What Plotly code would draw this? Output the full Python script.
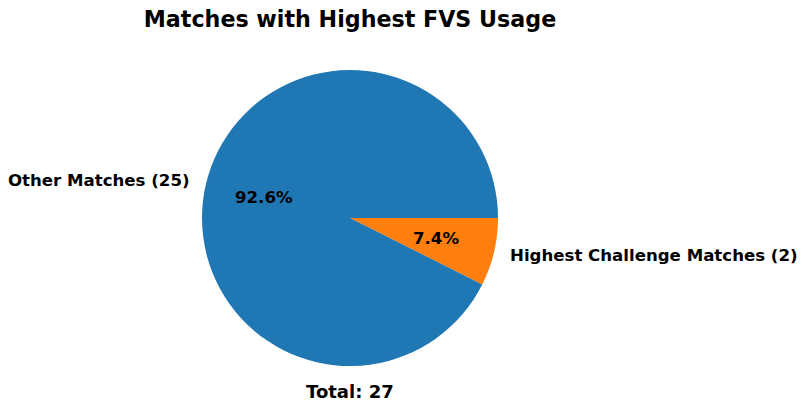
import math
import plotly.graph_objects as go

labels = ["Other Matches (25)", "Highest Challenge Matches (2)"]
values = [25, 2]
colors = ["#1f77b4", "#ff7f0e"]
title = "Matches with Highest FVS Usage"
total_label = "Total: " + str(sum(values))

W, H = 805, 413
cx, cy, R = 350, 218, 148  # pie centre and radius in px

# matplotlib draws counter-clockwise from 3 o'clock; in plotly that is the
# reversed order drawn clockwise from 3 o'clock
fig = go.Figure(go.Pie(
    labels=labels[::-1], values=values[::-1],
    marker=dict(colors=colors[::-1], line=dict(width=0)),
    sort=False, direction="clockwise", rotation=90,
    textinfo="none", hoverinfo="label+percent",
    domain=dict(x=[(cx - R) / W, (cx + R) / W], y=[1 - (cy + R) / H, 1 - (cy - R) / H]),
    showlegend=False,
))

font = "DejaVu Sans"
annotations = []
tot = sum(values)
start = 0.0
for lab, v in zip(labels, values):
    frac = v / tot
    mid = math.radians((start + frac / 2) * 360)
    start += frac
    c, s = math.cos(mid), math.sin(mid)
    # outer label at 1.1 R
    lx, ly = cx + 1.1 * R * c, cy - 1.1 * R * s
    annotations.append(dict(
        x=lx / W, y=1 - ly / H, xref="paper", yref="paper", text="<b>%s</b>" % lab,
        showarrow=False, xanchor="left" if c > 0 else "right", yanchor="middle",
        font=dict(family=font, size=16.6, color="black")))
    # percentage at 0.6 R
    px, py = cx + 0.6 * R * c, cy - 0.6 * R * s
    annotations.append(dict(
        x=px / W, y=1 - py / H, xref="paper", yref="paper", text="<b>%.1f%%</b>" % (frac * 100),
        showarrow=False, xanchor="center", yanchor="middle",
        font=dict(family=font, size=16.6, color="black")))

annotations.append(dict(
    x=cx / W, y=1 - 391 / H, xref="paper", yref="paper", text="<b>%s</b>" % total_label,
    showarrow=False, xanchor="center", yanchor="middle",
    font=dict(family=font, size=18, color="black")))

fig.update_layout(
    width=W, height=H, margin=dict(l=0, r=0, t=0, b=0),
    paper_bgcolor="white", plot_bgcolor="white",
    title=dict(text="<b>%s</b>" % title, x=cx / W, xanchor="center",
               y=1 - 19 / H, yanchor="middle",
               font=dict(family=font, size=22.2, color="black")),
    annotations=annotations,
)

fig.write_html("out.html", config={"displayModeBar": False},
               post_script="document.body.style.margin='0';")
